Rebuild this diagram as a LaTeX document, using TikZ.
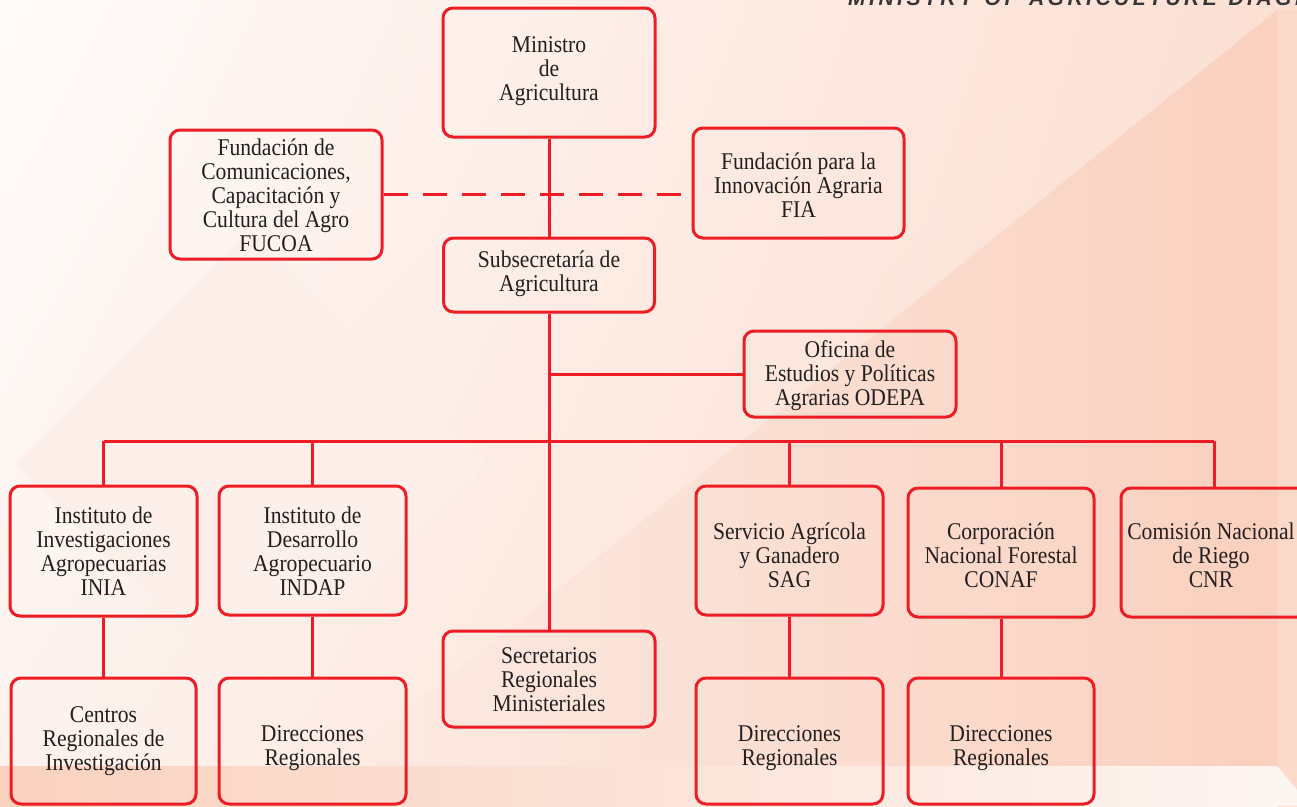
\documentclass[tikz,border=0pt]{standalone}
\usepackage{fontspec}
\usetikzlibrary{shadings}
\newfontfamily\orgfont{Liberation Serif}[FakeStretch=0.9]
\newfontfamily\titlefont{Liberation Sans}
\definecolor{lred}{HTML}{EE1C25}
\definecolor{txtc}{HTML}{231F20}
\definecolor{bgUL}{HTML}{FFFBFA}
\definecolor{bgUR}{HTML}{FCDFD3}
\definecolor{bgLL}{HTML}{FDF2ED}
\definecolor{bgLR}{HTML}{FBDBCC}
\definecolor{triL}{HTML}{FCEBE4}
\definecolor{triR}{HTML}{FAD0BE}
\definecolor{stripc}{HTML}{FBD9C9}
\definecolor{bandL}{HTML}{FAD1BF}
\definecolor{bandR}{HTML}{FDF5F1}
\definecolor{diamc}{HTML}{FDF0EA}
\tikzset{
  box/.style={draw=lred, line width=3pt, rounded corners=10pt, inner sep=0pt},
  txt/.style={align=center, text=txtc, inner sep=0pt, font={\orgfont\fontsize{24}{24}\selectfont}},
  conn/.style={draw=lred, line width=3pt},
  dconn/.style={draw=lred, line width=3pt, dash pattern=on 24pt off 15pt},
}
\begin{document}
\begin{tikzpicture}[x=1pt,y=-1pt]
\useasboundingbox (0,0) rectangle (1297,806);
\clip (0,0) rectangle (1297,806);
% background
\shade[upper left=bgUL, upper right=bgUR, lower left=bgLL, lower right=bgLR] (0,0) rectangle (1297,806);
\fill[diamc] (243,692) -- (15,464) -- (250,230) -- (485,464) -- cycle;
\shade[left color=triL, right color=triR] (1277,10) -- (1277,766) -- (339,766) -- cycle;
\fill[stripc] (1277,10) rectangle (1297,766);
\shade[left color=bandL, right color=bandR] (0,766) rectangle (1277,806);
\fill[bandR] (1277,766) -- (1297,790) -- (1297,806) -- (1277,806) -- cycle;
% title
\node[anchor=base west, inner sep=0pt, text=txtc!90!white, font={\titlefont\bfseries\itshape\fontsize{21}{24}\selectfont}] (title) at (848,5) {M\,I\,N\,I\,S\,T\,R\,Y\ \ O\,F\ \ A\,G\,R\,I\,C\,U\,L\,T\,U\,R\,E\ \ D\,I\,A\,G\,R};
% boxes
\node[box, minimum width=212pt, minimum height=129pt] (min) at (549,72.5) {};
\node[txt] at (549,71) {Ministro\\de\\Agricultura};
\node[box, minimum width=212pt, minimum height=129pt] (fucoa) at (276,194.5) {};
\node[txt] at (276,195) {Fundación de\\Comunicaciones,\\Capacitación y\\Cultura del Agro\\FUCOA};
\node[box, minimum width=211pt, minimum height=110pt] (fia) at (798.5,183) {};
\node[txt] at (798.5,185) {Fundación para la\\Innovación Agraria\\FIA};
\node[box, minimum width=211pt, minimum height=74pt] (sub) at (549,275) {};
\node[txt] at (549,274) {Subsecretaría de\\Agricultura};
\node[box, minimum width=212pt, minimum height=86pt] (odepa) at (850,374) {};
\node[txt] at (850,376) {Oficina de\\Estudios y Políticas\\Agrarias ODEPA};
\node[box, minimum width=187pt, minimum height=130pt] (inia) at (103.5,551) {};
\node[txt] at (103.5,551) {Instituto de\\Investigaciones\\Agropecuarias\\INIA};
\node[box, minimum width=187pt, minimum height=129pt] (indap) at (312.5,550.5) {};
\node[txt] at (312.5,551) {Instituto de\\Desarrollo\\Agropecuario\\INDAP};
\node[box, minimum width=212pt, minimum height=96pt] (sec) at (549,679) {};
\node[txt] at (549,680) {Secretarios\\Regionales\\Ministeriales};
\node[box, minimum width=187pt, minimum height=129pt] (sag) at (789.5,550.5) {};
\node[txt] at (789.5,555) {Servicio Agrícola\\y Ganadero\\SAG};
\node[box, minimum width=186pt, minimum height=129pt] (conaf) at (1001,552.5) {};
\node[txt] at (1001,555) {Corporación\\Nacional Forestal\\CONAF};
\node[box, minimum width=186pt, minimum height=129pt] (cnr) at (1214,552.5) {};
\node[txt] at (1211,555) {Comisión Nacional\\de Riego\\CNR};
\node[box, minimum width=185pt, minimum height=126pt] (cen) at (103.5,741) {};
\node[txt] at (103.5,741) {Centros\\Regionales de\\Investigación};
\node[box, minimum width=187pt, minimum height=126pt] (dir1) at (312.5,741) {};
\node[txt] at (312.5,748) {Direcciones\\Regionales};
\node[box, minimum width=187pt, minimum height=126pt] (dir2) at (789.5,741) {};
\node[txt] at (789.5,748) {Direcciones\\Regionales};
\node[box, minimum width=186pt, minimum height=126pt] (dir3) at (1001,741) {};
\node[txt] at (1001,748) {Direcciones\\Regionales};
% connectors
\coordinate (bus) at (549,441);
\coordinate (odl) at (551,374);
\draw[dconn] (fucoa.east) -- (fucoa.east -| fia.west);
\draw[conn] (min.south) -- (sub.north);
\draw[conn] (sub.south) -- (sec.north);
\draw[conn] (odepa.west) -- (odl);
\draw[conn] (inia.north |- bus) -- (cnr.north |- bus);
\draw[conn] (inia.north) -- (inia.north |- bus);
\draw[conn] (indap.north) -- (indap.north |- bus);
\draw[conn] (sag.north) -- (sag.north |- bus);
\draw[conn] (conaf.north) -- (conaf.north |- bus);
\draw[conn] (cnr.north) -- (cnr.north |- bus);
\draw[conn] (inia.south) -- (cen.north);
\draw[conn] (indap.south) -- (dir1.north);
\draw[conn] (sag.south) -- (dir2.north);
\draw[conn] (conaf.south) -- (dir3.north);
\end{tikzpicture}
\end{document}
